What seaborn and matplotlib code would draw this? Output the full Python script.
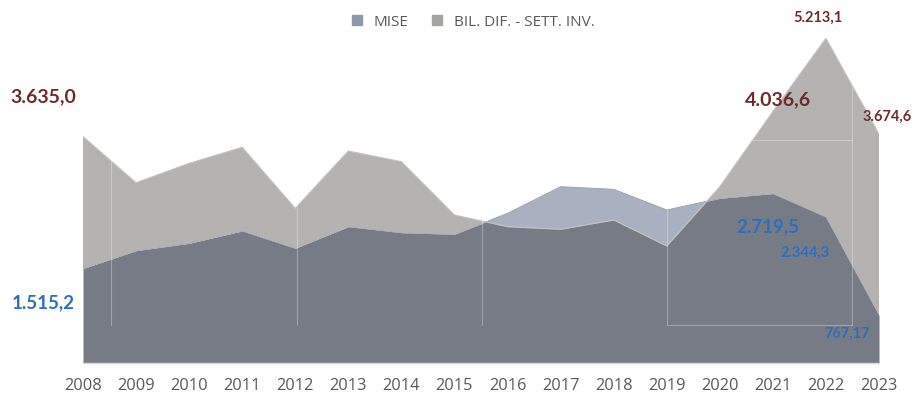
import numpy as np
import pandas as pd
import matplotlib
matplotlib.use("Agg")
import matplotlib.pyplot as plt
from matplotlib.lines import Line2D
import seaborn as sns

# Data (milioni di euro)
years = list(range(2008, 2024))
mise = [1515.2, 1803, 1921, 2119, 1841, 2188, 2092, 2066, 2403, 2830, 2788,
        2456, 2643, 2719.5, 2344.3, 767.17]
bil = [3635.0, 2894, 3205, 3462, 2483, 3403, 3231, 2376, 2188, 2146, 2295,
       1878, 2830, 4036.6, 5213.1, 3674.6]

series_names = ["MISE", "BIL. DIF. - SETT. INV."]

# Labelled values per series
labels_bil = {2008: "3.635,0", 2021: "4.036,6", 2022: "5.213,1", 2023: "3.674,6"}
labels_mise = {2008: "1.515,2", 2021: "2.719,5", 2022: "2.344,3", 2023: "767,17"}

df = pd.DataFrame({"anno": years, "MISE": mise, "BIL": bil})

sns.set_theme(style="white")
plt.rcParams["font.family"] = ["Lato", "DejaVu Sans"]

C_DARK = "#777b85"
C_MISE = "#a9b1c0"
C_BIL = "#b5b3b1"

fig = plt.figure(figsize=(9.14, 3.94), dpi=100)
ax = fig.add_axes([83 / 914, 1 - 363 / 394, (879 - 83) / 914, (363 - 30) / 394])

x = df["anno"].to_numpy(dtype=float)
m = df["MISE"].to_numpy()
b = df["BIL"].to_numpy()

# overlap of the two areas in the darker tone, then each series' own excess
ax.fill_between(x, 0, m, color=C_DARK, lw=0, zorder=1)
ax.fill_between(x, b, m, where=m >= b, interpolate=True, color=C_MISE, lw=0, zorder=2)
ax.fill_between(x, m, b, where=b >= m, interpolate=True, color=C_BIL, lw=0, zorder=2)

# soft outlines on the upper edges
sns.lineplot(data=df, x="anno", y="BIL", ax=ax, color="#c4c2c0", lw=0.8, zorder=3)
sns.lineplot(data=df, x="anno", y="MISE", ax=ax, color="#8d94a3", lw=0.6, zorder=1.5)

# faint white frame lines over the fills
for xv in [2008.53, 2012.03, 2015.52, 2019.0, 2022.5]:
    ax.plot([xv, xv], [610, 5400], color="white", lw=0.8, alpha=0.3, zorder=4)
ax.plot([2019.0, 2022.5], [610, 610], color="white", lw=0.8, alpha=0.3, zorder=4)
ax.plot([2020.6, 2022.5], [3580, 3580], color="white", lw=0.8, alpha=0.3, zorder=4)

ax.set_xlim(2008, 2023)
ax.set_ylim(0, 5345)
ax.set_xticks(years)
ax.set_xticklabels([str(y) for y in years], fontsize=11.8, color="#595959",
                   family=["Open Sans", "DejaVu Sans"])
ax.tick_params(axis="x", length=0, pad=11)
ax.set_yticks([])
ax.set_xlabel("")
ax.set_ylabel("")
for s in ["top", "right", "left"]:
    ax.spines[s].set_visible(False)
ax.spines["bottom"].set_color("#d9d9d9")
ax.spines["bottom"].set_linewidth(1.0)

RED = "#6e2b2b"
BLUE = "#2d6ec2"
bil_style = {2008: ((-40, 40), 14), 2021: ((5, 12), 14), 2022: ((-8, 20), 10.5),
             2023: ((8, 17), 10.5)}
mise_style = {2008: ((-40, -34), 13.5), 2021: ((-5, -33), 13.5), 2022: ((-21, -36), 10.5),
              2023: ((-32, -19), 10.5)}
for yr, txt in labels_bil.items():
    off, fs = bil_style[yr]
    ax.annotate(txt, (yr, df.loc[df.anno == yr, "BIL"].iloc[0]), xytext=off,
                textcoords="offset pixels", ha="center", va="center",
                fontsize=fs, fontweight="bold", color=RED, zorder=6,
                annotation_clip=False)
for yr, txt in labels_mise.items():
    off, fs = mise_style[yr]
    ax.annotate(txt, (yr, df.loc[df.anno == yr, "MISE"].iloc[0]), xytext=off,
                textcoords="offset pixels", ha="center", va="center",
                fontsize=fs, fontweight="bold", color=BLUE, zorder=6,
                annotation_clip=False)

handles = [Line2D([], [], marker="s", ls="", markersize=7, color="#8e9aab"),
           Line2D([], [], marker="s", ls="", markersize=7, color="#a6a4a2")]
fig.legend(handles, series_names, loc="center", bbox_to_anchor=(468 / 914, 1 - 22 / 394),
           ncol=2, frameon=False, handletextpad=0.1, columnspacing=0.9,
           labelcolor="#595959", prop={"family": ["Open Sans", "DejaVu Sans"], "size": 11})

fig.savefig("out.png", dpi=100)
